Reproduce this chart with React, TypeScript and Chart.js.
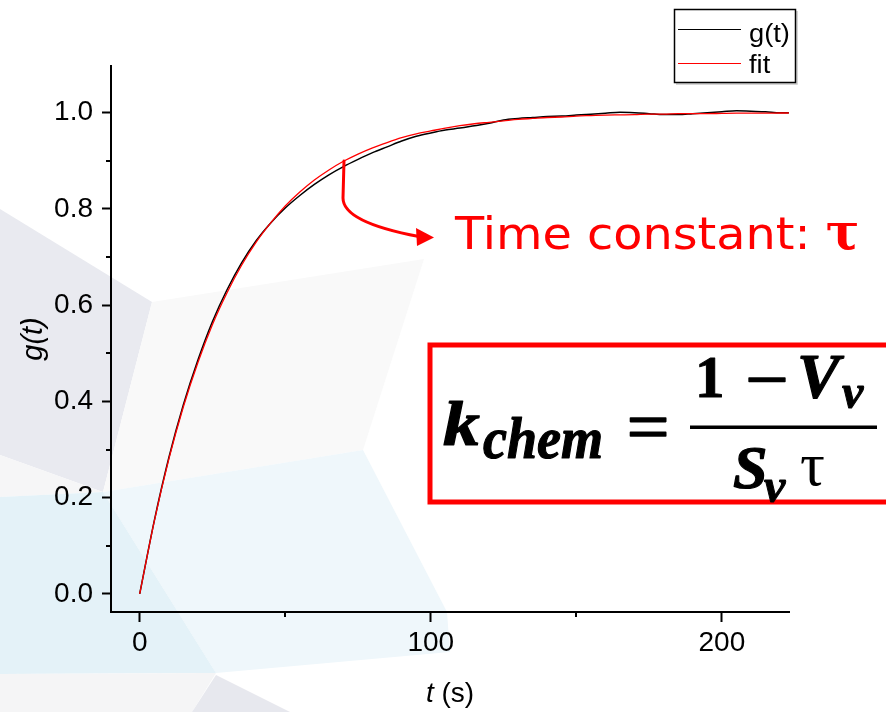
import { useEffect, useRef } from 'react';
import { Chart, registerables } from 'chart.js';

Chart.register(...registerables);

// ---- data ----
const times = [0, 5, 10, 15, 20, 25, 30, 35, 40, 45, 50, 55, 60, 65, 70, 75, 80, 85, 90, 95, 100, 105, 110, 115, 120, 125, 130, 135, 140, 145, 150, 155, 160, 165, 170, 175, 180, 185, 190, 195, 200, 205, 210, 215, 220, 223];
const gValues = [0, 0.152, 0.283, 0.393, 0.486, 0.566, 0.632, 0.688, 0.734, 0.771, 0.802, 0.828, 0.851, 0.871, 0.888, 0.903, 0.917, 0.929, 0.941, 0.951, 0.958, 0.964, 0.968, 0.973, 0.978, 0.985, 0.988, 0.99, 0.992, 0.993, 0.995, 0.997, 0.999, 1.001, 1.0, 0.998, 0.996, 0.996, 0.998, 1.0, 1.002, 1.004, 1.003, 1.002, 1.0, 1.0];
const fitValues = [0, 0.151, 0.28, 0.389, 0.481, 0.56, 0.626, 0.683, 0.731, 0.771, 0.806, 0.835, 0.86, 0.881, 0.899, 0.914, 0.927, 0.938, 0.948, 0.956, 0.962, 0.968, 0.973, 0.977, 0.98, 0.983, 0.986, 0.988, 0.99, 0.991, 0.993, 0.994, 0.995, 0.9955, 0.996, 0.997, 0.997, 0.998, 0.998, 0.998, 0.9986, 0.999, 0.999, 0.999, 0.9993, 0.9993];
const seriesNames = ['g(t)', 'fit'];
const seriesColors = ['#000000', '#ff0000'];
const xRange = [-9.86, 223.05];
const yRange = [-0.0375, 1.097];
const xMajorStep = 100;
const yMajorStep = 0.2;
const xMinorTicks = [50, 150];
const yMinorTicks = [0.1, 0.3, 0.5, 0.7, 0.9];
const xTitleItalic = 't';
const xTitleRest = ' (s)';
const yTitle = 'g(t)';
const annotationLabel = 'Time constant: ';
const annotationSymbol = 'τ';

const W = 886;
const H = 712;

type Pt = [number, number];
const bgShapes: { color: string; pts: Pt[] }[] = [
  { color: '#e9eaf0', pts: [[0, 209], [152, 302], [103, 492], [0, 455]] },
  { color: '#f6f6f7', pts: [[0, 455], [103, 492], [0, 497]] },
  { color: '#f9f9f9', pts: [[152, 302], [424, 259], [363, 450], [103, 492]] },
  { color: '#eff7fb', pts: [[103, 492], [363, 450], [447, 612], [450, 652], [216, 673]] },
  { color: '#e4f2f8', pts: [[0, 497], [103, 492], [216, 673], [0, 674]] },
  { color: '#f5f5f6', pts: [[0, 674], [216, 673], [192, 712], [0, 712]] },
  { color: '#e7e8ee', pts: [[216, 675], [290, 712], [192, 712]] },
];

function txt(
  ctx: CanvasRenderingContext2D,
  s: string,
  x: number,
  y: number,
  font: string,
  sx = 1,
  align: CanvasTextAlign = 'left',
  heavy = 0
) {
  ctx.save();
  ctx.font = font;
  ctx.translate(x, y);
  ctx.scale(sx, 1);
  ctx.textAlign = align;
  ctx.textBaseline = 'alphabetic';
  ctx.fillText(s, 0, 0);
  if (heavy > 0) {
    ctx.lineWidth = heavy;
    ctx.strokeStyle = ctx.fillStyle as string;
    ctx.lineJoin = 'round';
    ctx.strokeText(s, 0, 0);
  }
  const w = ctx.measureText(s).width * sx;
  ctx.restore();
  return w;
}

const backgroundPlugin = {
  id: 'bgShapes',
  beforeDraw(chart: any) {
    const ctx = chart.ctx as CanvasRenderingContext2D;
    ctx.save();
    ctx.fillStyle = '#ffffff';
    ctx.fillRect(0, 0, W, H);
    for (const s of bgShapes) {
      ctx.beginPath();
      s.pts.forEach((p, i) => (i === 0 ? ctx.moveTo(p[0], p[1]) : ctx.lineTo(p[0], p[1])));
      ctx.closePath();
      ctx.fillStyle = s.color;
      ctx.fill();
    }
    ctx.restore();
  },
};

const overlayPlugin = {
  id: 'overlay',
  afterDraw(chart: any) {
    const ctx = chart.ctx as CanvasRenderingContext2D;
    const xs = chart.scales.x;
    const ys = chart.scales.y;
    const area = chart.chartArea;
    ctx.save();

    // minor ticks
    ctx.strokeStyle = '#000';
    ctx.lineWidth = 2;
    for (const v of yMinorTicks) {
      const py = Math.round(ys.getPixelForValue(v));
      ctx.beginPath();
      ctx.moveTo(area.left - 5, py);
      ctx.lineTo(area.left, py);
      ctx.stroke();
    }
    for (const v of xMinorTicks) {
      const px = Math.round(xs.getPixelForValue(v));
      ctx.beginPath();
      ctx.moveTo(px, area.bottom);
      ctx.lineTo(px, area.bottom + 5);
      ctx.stroke();
    }

    // axis titles
    ctx.fillStyle = '#000';
    ctx.font = 'italic 28px "Liberation Sans"';
    const wt = ctx.measureText(xTitleItalic).width;
    ctx.font = '28px "Liberation Sans"';
    const wr = ctx.measureText(xTitleRest).width;
    const cx = (area.left + area.right) / 2;
    const sx = cx - (wt + wr) / 2;
    txt(ctx, xTitleItalic, sx, 702, 'italic 28px "Liberation Sans"');
    txt(ctx, xTitleRest, sx + wt, 702, '28px "Liberation Sans"');

    ctx.save();
    ctx.translate(42, (area.top + area.bottom) / 2);
    ctx.rotate(-Math.PI / 2);
    ctx.font = 'italic 29px "Liberation Sans"';
    ctx.textAlign = 'center';
    ctx.fillText(yTitle, 0, 0);
    ctx.restore();

    // legend
    ctx.fillStyle = '#ffffff';
    ctx.fillRect(674, 9, 122, 74);
    ctx.strokeStyle = '#c8c8c8';
    ctx.lineWidth = 1.5;
    ctx.beginPath();
    ctx.moveTo(797, 11);
    ctx.lineTo(797, 84);
    ctx.lineTo(676, 84);
    ctx.stroke();
    ctx.strokeStyle = '#000';
    ctx.lineWidth = 1.5;
    ctx.strokeRect(674.5, 9.5, 121, 73);
    const legendY = [29, 63];
    const legendBase = [42, 73];
    seriesNames.forEach((name, i) => {
      ctx.strokeStyle = seriesColors[i];
      ctx.lineWidth = 1;
      ctx.beginPath();
      ctx.moveTo(678, legendY[i] + 0.5);
      ctx.lineTo(741, legendY[i] + 0.5);
      ctx.stroke();
      ctx.fillStyle = '#000';
      txt(ctx, name, 749, legendBase[i], '26px "Liberation Sans"', 1.05);
    });

    // arrow annotation
    ctx.strokeStyle = '#ff0000';
    ctx.fillStyle = '#ff0000';
    ctx.lineWidth = 3;
    ctx.lineCap = 'round';
    ctx.beginPath();
    ctx.moveTo(344, 161);
    ctx.lineTo(343, 198);
    ctx.bezierCurveTo(343, 214, 368, 227, 419, 236.5);
    ctx.stroke();
    ctx.beginPath();
    ctx.moveTo(434, 237.5);
    ctx.lineTo(416, 228);
    ctx.lineTo(417, 246);
    ctx.closePath();
    ctx.fill();

    const wl = txt(ctx, annotationLabel, 455, 249, '44px "DejaVu Sans"', 1.085);
    txt(ctx, annotationSymbol, 455 + wl, 249, 'bold 50px "DejaVu Serif"', 1.0);

    // formula box
    ctx.fillStyle = '#ffffff';
    ctx.fillRect(430, 345, 470, 157);
    ctx.strokeStyle = '#ff0000';
    ctx.lineWidth = 5;
    ctx.lineCap = 'butt';
    ctx.strokeRect(430, 345, 480, 157);

    ctx.fillStyle = '#000';
    txt(ctx, 'k', 443, 445, 'bold italic 64px "Liberation Serif"', 1.15, 'left', 1.2);
    txt(ctx, 'chem', 483, 458, 'bold italic 60px "Liberation Serif"', 0.9, 'left', 1.2);
    txt(ctx, '=', 648, 451, '72px "Liberation Serif"', 1.05, 'center', 1.6);
    ctx.fillRect(690, 425.5, 187, 3.5);
    txt(ctx, '1', 695, 397, 'bold 59px "Liberation Serif"', 1, 'left', 1);
    txt(ctx, '−', 767, 403, '70px "Liberation Serif"', 1.1, 'center', 1.4);
    txt(ctx, 'V', 797, 398, 'bold italic 64px "Liberation Serif"', 1, 'left', 1.2);
    txt(ctx, 'v', 842, 408, 'bold italic 48px "Liberation Serif"', 1, 'left', 1);
    txt(ctx, 'S', 733, 488, 'bold italic 62px "Liberation Serif"', 1, 'left', 1.2);
    txt(ctx, 'v', 764, 502, 'bold italic 48px "Liberation Serif"', 1, 'left', 1);
    txt(ctx, 'τ', 800, 485, '62px "Liberation Serif"');

    ctx.restore();
  },
};

export default function App() {
  const canvasRef = useRef<HTMLCanvasElement | null>(null);

  useEffect(() => {
    document.body.style.margin = '0';
    const canvas = canvasRef.current;
    if (!canvas) return;
    const chart = new Chart(canvas, {
      type: 'line',
      data: {
        datasets: [
          {
            label: seriesNames[0],
            data: times.map((t, i) => ({ x: t, y: gValues[i] })),
            borderColor: seriesColors[0],
            borderWidth: 1.5,
            pointRadius: 0,
            cubicInterpolationMode: 'monotone',
            fill: false,
            order: 2,
          },
          {
            label: seriesNames[1],
            data: times.map((t, i) => ({ x: t, y: fitValues[i] })),
            borderColor: seriesColors[1],
            borderWidth: 1.3,
            pointRadius: 0,
            cubicInterpolationMode: 'monotone',
            fill: false,
            order: 1,
          },
        ],
      },
      options: {
        responsive: false,
        animation: false,
        devicePixelRatio: 1,
        layout: { padding: { top: 66, right: 97, left: 0, bottom: 0 } },
        plugins: {
          legend: { display: false },
          tooltip: { enabled: false },
        },
        scales: {
          x: {
            type: 'linear',
            min: xRange[0],
            max: xRange[1],
            afterFit: (s: any) => {
              s.height = 100;
            },
            border: { display: true, color: '#000', width: 2 },
            grid: {
              display: true,
              drawOnChartArea: false,
              drawTicks: true,
              tickLength: 10,
              tickWidth: 2,
              tickColor: '#000',
            },
            ticks: {
              stepSize: xMajorStep,
              includeBounds: false,
              color: '#000',
              padding: 4,
              maxRotation: 0,
              font: { family: '"Liberation Sans"', size: 28 },
              callback: (v: any) => String(Math.round(Number(v))),
            },
          },
          y: {
            type: 'linear',
            min: yRange[0],
            max: yRange[1],
            afterFit: (s: any) => {
              s.width = 111;
            },
            border: { display: true, color: '#000', width: 2 },
            grid: {
              display: true,
              drawOnChartArea: false,
              drawTicks: true,
              tickLength: 9,
              tickWidth: 2,
              tickColor: '#000',
            },
            ticks: {
              stepSize: yMajorStep,
              includeBounds: false,
              color: '#000',
              padding: 9,
              font: { family: '"Liberation Sans"', size: 28 },
              callback: (v: any) => Number(v).toFixed(1),
            },
          },
        },
      },
      plugins: [backgroundPlugin, overlayPlugin],
    } as any);
    return () => chart.destroy();
  }, []);

  return (
    <div style={{ width: W, height: H }}>
      <canvas ref={canvasRef} width={W} height={H} style={{ display: 'block', width: W, height: H }} />
    </div>
  );
}
